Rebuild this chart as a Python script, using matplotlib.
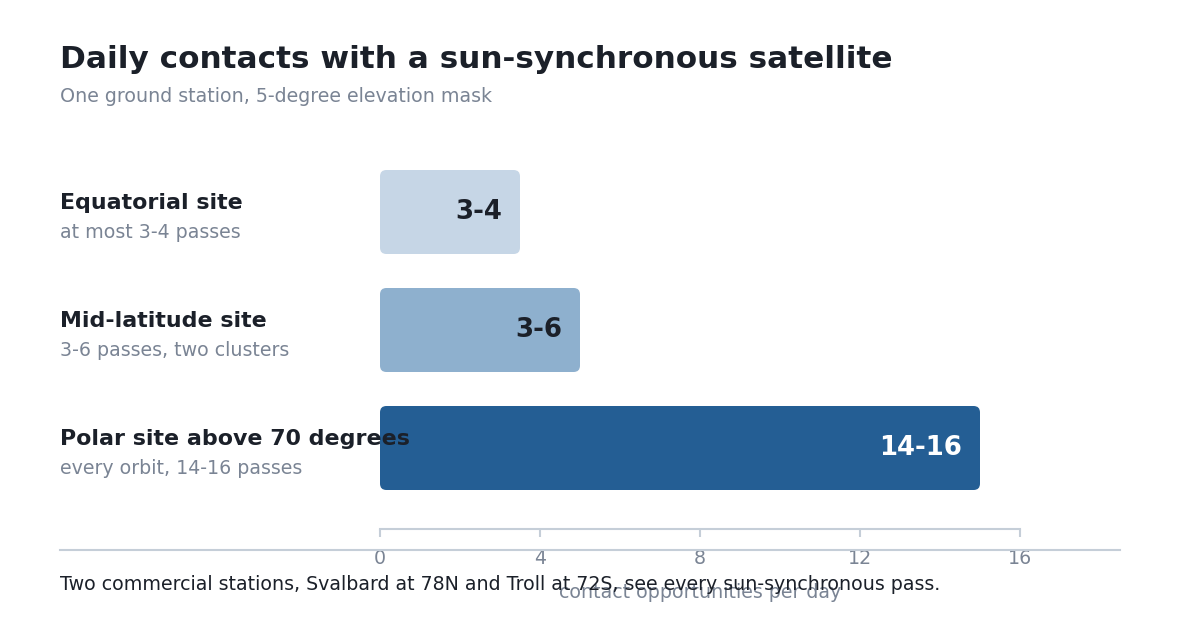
import numpy as np
import matplotlib
matplotlib.use("Agg")
import matplotlib.pyplot as plt
from matplotlib.patches import FancyBboxPatch
from matplotlib.lines import Line2D

sites = ["Equatorial site", "Mid-latitude site", "Polar site above 70 degrees"]
notes = ["at most 3-4 passes", "3-6 passes, two clusters", "every orbit, 14-16 passes"]
contacts = [3.5, 5.0, 15.0]
ranges = ["3-4", "3-6", "14-16"]
bar_colors = ["#c6d6e6", "#8eb0ce", "#245e94"]
text_colors = ["#1b2029", "#1b2029", "#ffffff"]
ticks = [0, 4, 8, 12, 16]

DARK = "#1b2029"
GREY = "#7a8494"
RULE = "#c5ced8"

W, H = 1180, 620
fig = plt.figure(figsize=(W / 100, H / 100), dpi=100)
plt.rcParams['font.family'] = ['DejaVu Sans']

# axes placed in pixels: x 380..1120, y 153..529
ax = fig.add_axes([380 / W, (H - 529) / H, 740 / W, (529 - 153) / H])
ax.set_xlim(0, 18.5)
ax.set_ylim(-0.5 - 22 / 118, 2.5)

ypos = np.arange(len(sites))[::-1]
bar_h = 84 / 118
# px per data unit: 40 in x, 118 in y
aspect = 40 / 118
for y, v, c in zip(ypos, contacts, bar_colors):
    p = FancyBboxPatch((0, y - bar_h / 2), v, bar_h,
                       boxstyle="round,pad=0,rounding_size=0.16",
                       mutation_aspect=aspect, fc=c, ec="none", zorder=2)
    ax.add_patch(p)

for y, v, r, tc in zip(ypos, contacts, ranges, text_colors):
    ax.annotate(r, (v, y), xytext=(-13, 0), textcoords="offset points",
                ha="right", va="center", fontsize=18.7, fontweight="bold",
                color=tc, zorder=3)

for y, s, n in zip(ypos, sites, notes):
    ax.annotate(s, (60 / W, y), xycoords=("figure fraction", "data"),
                xytext=(0, 2.2), textcoords="offset points",
                ha="left", va="baseline", fontsize=15.9, fontweight="bold",
                color=DARK, zorder=4, annotation_clip=False)
    ax.annotate(n, (60 / W, y), xycoords=("figure fraction", "data"),
                xytext=(0, -18.7), textcoords="offset points",
                ha="left", va="baseline", fontsize=13.7, color=GREY,
                zorder=4, annotation_clip=False)

for side in ["top", "right", "left"]:
    ax.spines[side].set_visible(False)
ax.spines["bottom"].set_bounds(0, 16)
ax.spines["bottom"].set_color(RULE)
ax.spines["bottom"].set_linewidth(1.5)
ax.set_yticks([])
ax.set_xticks(ticks)
ax.set_xticklabels([str(t) for t in ticks])
ax.tick_params(axis="x", colors=RULE, labelcolor=GREY, labelsize=13.7,
               length=6, width=1.5, pad=8.5)
ax.set_xlabel("contact opportunities per day", fontsize=13.7, color=GREY, va="center")
ax.xaxis.set_label_coords(320 / 740, -(592 - 529) / 376)
ax.set_facecolor("none")

fig.text(60 / W, 1 - 68 / H, "Daily contacts with a sun-synchronous satellite",
         fontsize=22.4, fontweight="bold", color=DARK, va="baseline")
fig.text(60 / W, 1 - 102 / H, "One ground station, 5-degree elevation mask",
         fontsize=13.7, color=GREY, va="baseline")
fig.add_artist(Line2D([60 / W, 1120 / W], [1 - 550 / H] * 2,
                      transform=fig.transFigure, color=RULE, lw=1.5))
fig.text(60 / W, 1 - 590 / H,
         "Two commercial stations, Svalbard at 78N and Troll at 72S, see every sun-synchronous pass.",
         fontsize=13.7, color=DARK, va="baseline")

fig.savefig("out.png", dpi=100)
